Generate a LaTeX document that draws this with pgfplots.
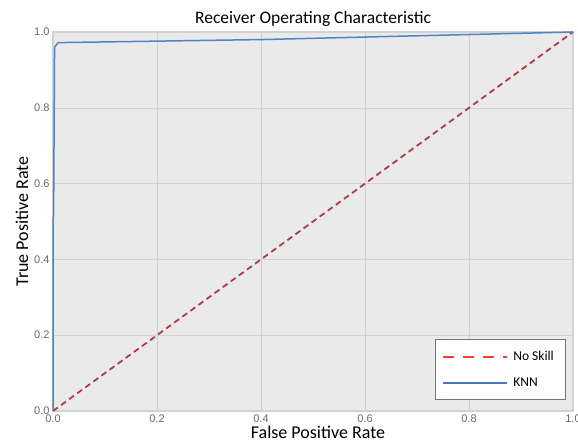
\documentclass[border=0pt]{standalone}
\usepackage{pgfplots}
\pgfplotsset{compat=1.18}
\usepackage{fontspec}
\setmainfont{Carlito}
\newfontfamily\tickfont{Liberation Sans}
\definecolor{bg}{HTML}{EAEAEA}
\definecolor{gridc}{HTML}{D2D2D2}
\definecolor{knn}{HTML}{4F86C2}
\definecolor{nsk}{HTML}{B2394A}
\definecolor{nskleg}{HTML}{F0412E}
\definecolor{legknn}{HTML}{4A74C4}
\definecolor{legframe}{HTML}{6A7390}
\pgfplotsset{longline/.style={legend image code/.code={\draw[##1] (0pt,0pt) -- (64pt,0pt);}}}
\begin{document}
\begin{tikzpicture}
\useasboundingbox (-53pt,-34pt) rectangle (525pt,411pt);
\begin{axis}[
  name=ax,
  at={(0,0)}, anchor=south west,
  scale only axis,
  width=520pt, height=379pt,
  xmin=0, xmax=1, ymin=0, ymax=1,
  axis background/.style={fill=bg},
  axis line style={gridc, line width=1.2pt},
  grid=major,
  major grid style={gridc, line width=0.6pt},
  major tick length=0pt,
  xtick={0,0.2,0.4,0.6,0.8,1},
  ytick={0,0.2,0.4,0.6,0.8,1},
  xticklabel style={/pgf/number format/fixed,/pgf/number format/precision=1,/pgf/number format/fixed zerofill, font=\tickfont\fontsize{11}{12}\selectfont, text=black!60},
  yticklabel style={/pgf/number format/fixed,/pgf/number format/precision=1,/pgf/number format/fixed zerofill, font=\tickfont\fontsize{11}{12}\selectfont, text=black!60},
  /pgf/number format/assume math mode=true,
  title={Receiver Operating Characteristic},
  title style={font=\fontsize{17.5}{19}\selectfont, yshift=-4pt},
  xlabel={False Positive Rate},
  ylabel={True Positive Rate},
  xlabel style={font=\fontsize{18}{20}\selectfont, yshift=3pt, xshift=5pt},
  ylabel style={font=\fontsize{18}{20}\selectfont, yshift=-1pt},
  legend style={at={(0.987,0.029)}, anchor=south east, fill=white, draw=legframe, line width=0.8pt, font=\fontsize{13.5}{15}\selectfont, row sep=11pt, inner xsep=7pt, inner ysep=10pt, nodes={inner xsep=5pt}},
  legend cell align=left,
  clip=false,
]
\addplot[nsk, line width=1.8pt, dash pattern=on 6pt off 4pt, forget plot] coordinates {(0,0) (1,1)};
\addlegendimage{nskleg, line width=2pt, dash pattern=on 11pt off 9pt, longline}
\addlegendentry{No Skill}
\addplot[knn, line width=1.5pt, legend image post style={legknn, line width=2pt}, longline] coordinates {(0,0) (0,0.5) (0.0012,0.52) (0.003,0.96) (0.01,0.972) (0.4,0.98) (1,1)};
\addlegendentry{KNN}
\end{axis}
\end{tikzpicture}
\end{document}
